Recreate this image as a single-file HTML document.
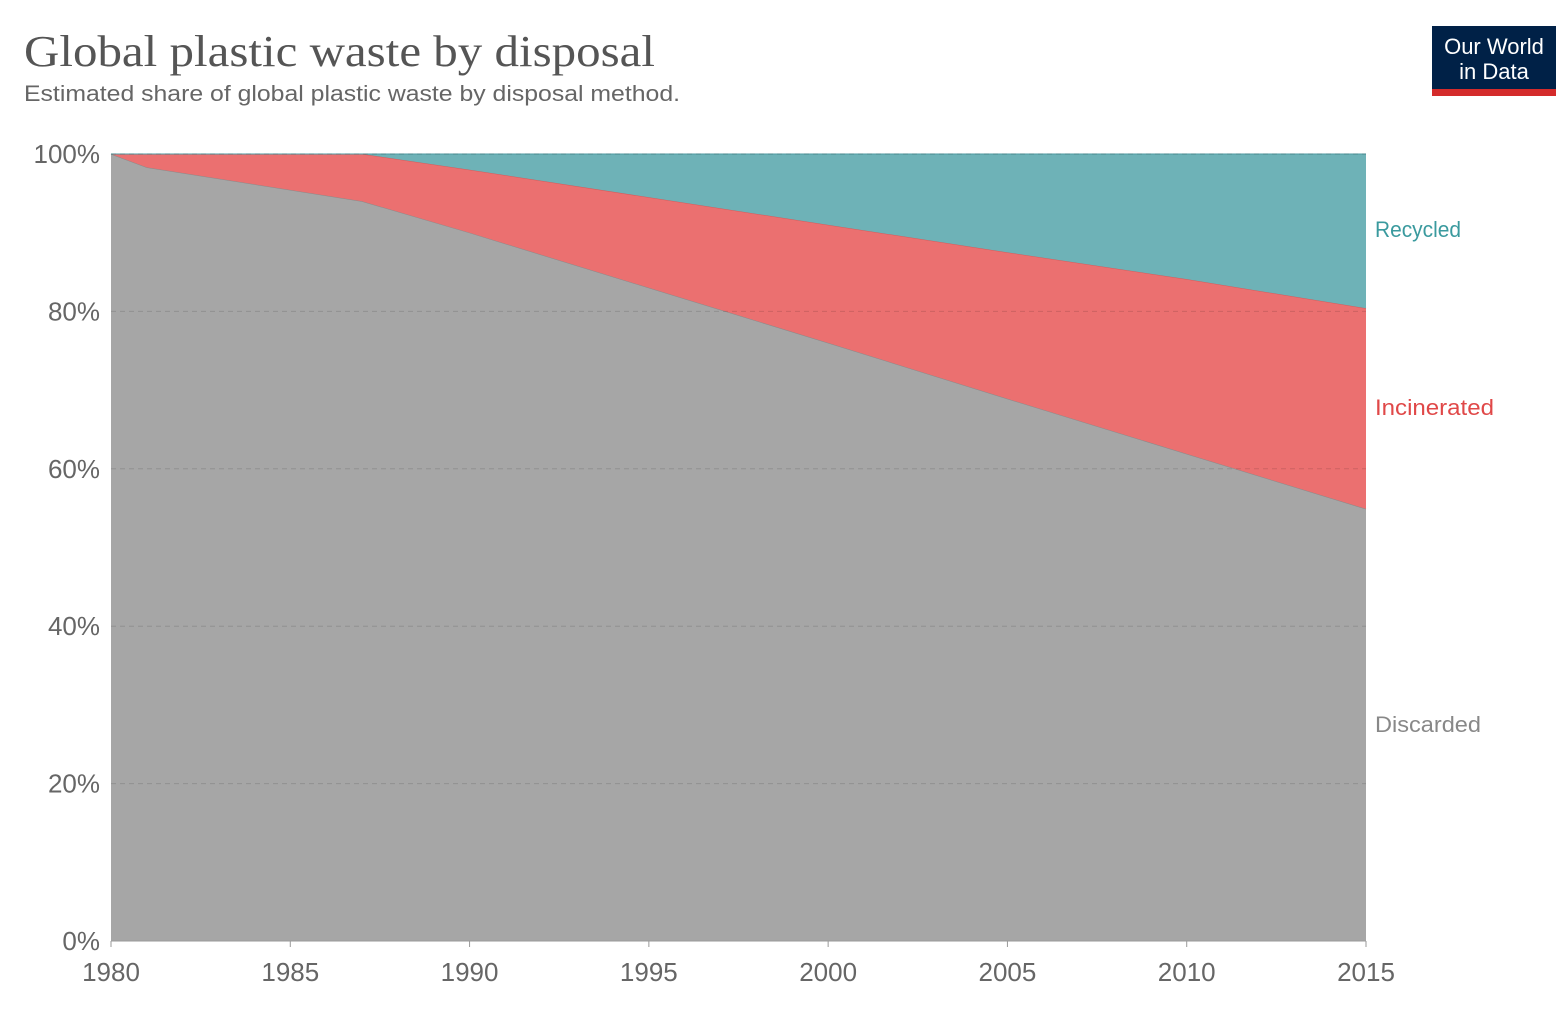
<!DOCTYPE html>
<html><head><meta charset="utf-8"><style>
body{margin:0;background:#fff;width:1568px;height:1004px;overflow:hidden;font-family:"Liberation Sans",sans-serif}
</style></head><body>
<svg width="1568" height="1004">
<text x="24" y="66" font-family="Liberation Serif, serif" font-size="44" fill="#555" textLength="631" lengthAdjust="spacingAndGlyphs">Global plastic waste by disposal</text>
<text x="24" y="101" font-size="22" fill="#666" textLength="656" lengthAdjust="spacingAndGlyphs">Estimated share of global plastic waste by disposal method.</text>
<g>
<rect x="1432" y="26" width="124" height="64" fill="#002147"/>
<rect x="1432" y="89" width="124" height="7" fill="#d42b2b"/>
<text x="1494" y="54" text-anchor="middle" font-size="22" fill="#fff">Our World</text>
<text x="1494" y="79" text-anchor="middle" font-size="22" fill="#fff">in Data</text>
</g>
<g id="areas"></g>
<g id="axes"></g>
</svg>
<script>
const years=[1980,1981,1987,1990,1995,2000,2005,2010,2015];
const discarded=[100,98.3,94.0,90.0,83.0,76.0,68.9,61.9,54.9];
const incinerated=[0,1.7,6.0,8.0,11.5,15.0,18.6,22.2,25.5];
const recycled=[0,0,0,2.0,5.5,9.0,12.5,15.9,19.6];
const yTicks=[0,20,40,60,80,100];
const xTicks=[1980,1985,1990,1995,2000,2005,2010,2015];
const NS="http://www.w3.org/2000/svg";
const X=y=>111+(y-1980)*(1255/35);
const Y=v=>941-v*7.87;
const areas=document.getElementById('areas'),axes=document.getElementById('axes');
function mk(tag,attrs,parent){const e=document.createElementNS(NS,tag);for(const k in attrs)e.setAttribute(k,attrs[k]);parent.appendChild(e);return e;}
const series=[["discarded",discarded,"#a6a6a6","#8a8a8a"],["incinerated",incinerated,"#eb7070","#d65a5a"],["recycled",recycled,"#6eb2b7","#4f9aa0"]];
let base=years.map(()=>0);
series.forEach(([name,vals,fill,stroke])=>{
  const top=vals.map((v,i)=>base[i]+v);
  let d="M"+years.map((y,i)=>X(y)+","+Y(top[i])).join("L");
  for(let i=years.length-1;i>=0;i--)d+="L"+X(years[i])+","+Y(base[i]);
  const p=mk('path',{d:d+"Z",fill:fill},areas);
  
  
  const l=mk('path',{d:"M"+years.map((y,i)=>X(y)+","+Y(top[i])).join("L"),fill:"none",stroke:stroke,"stroke-width":1},areas);
  
  
  base=top;
});
yTicks.forEach(v=>{
  const g=mk('line',{x1:111,x2:1366,y1:Y(v),y2:Y(v),stroke:"#000","stroke-opacity":"0.13","stroke-dasharray":"5,4"},axes);
  
  
  const t=mk('text',{x:100,y:Y(v)+9,"text-anchor":"end","font-size":"26",fill:"#666"},axes);
  t.textContent=v+"%";
  
  
});
const ax=mk('line',{x1:111,x2:1366,y1:941,y2:941,stroke:"#999"},axes);


xTicks.forEach(y=>{
  const tk=mk('line',{x1:X(y),x2:X(y),y1:941,y2:947,stroke:"#999"},axes);
  
  
  const t=mk('text',{x:X(y),y:981,"text-anchor":"middle","font-size":"26",fill:"#666"},axes);
  t.textContent=y;
  
  
});
const labels=[["Recycled","#3a9a9e",237,86],["Incinerated","#e04848",415,119],["Discarded","#888",732,106]];
labels.forEach(([n,c,y,w])=>{
  const t=mk('text',{x:1375,y:y,"font-size":"22",fill:c,textLength:w,lengthAdjust:"spacingAndGlyphs"},axes);
  t.textContent=n;
  
  
});
</script>
</body></html>
